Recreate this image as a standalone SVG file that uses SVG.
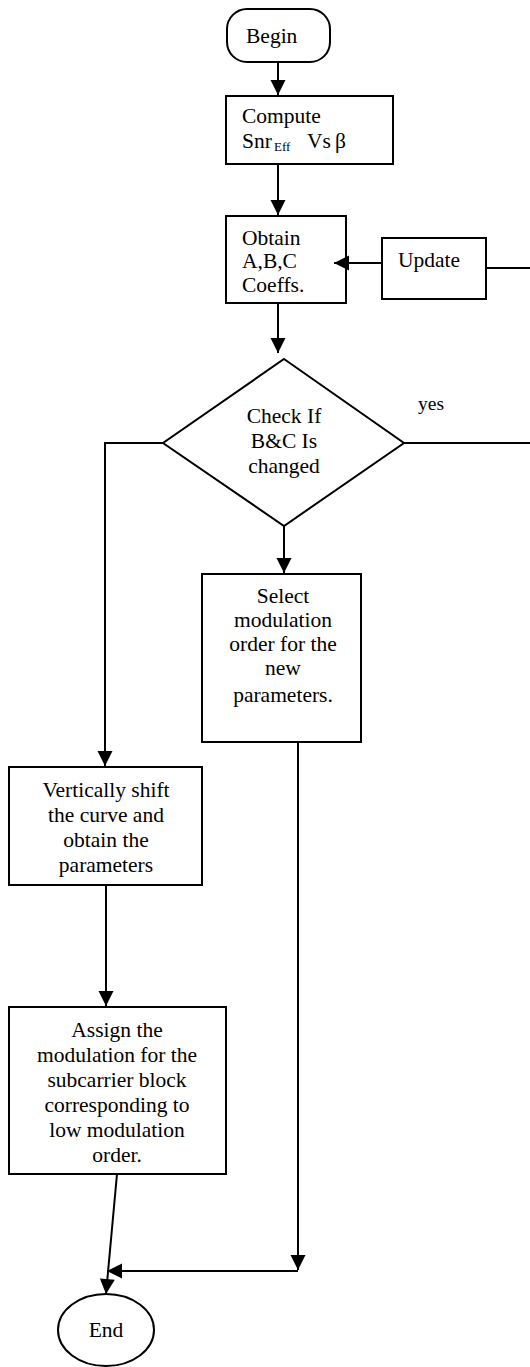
<svg xmlns="http://www.w3.org/2000/svg" width="530" height="1367" viewBox="0 0 530 1367">
<style>
.s{fill:#fff;stroke:#000;stroke-width:2}
.t{font-family:"Liberation Serif","Times New Roman",serif;font-size:21.5px;fill:#000}
.c{text-anchor:middle}
.l{fill:none;stroke:#000;stroke-width:2}
</style>
<defs>
<marker id="a" markerUnits="userSpaceOnUse" markerWidth="20" markerHeight="20" refX="15" refY="7.5" orient="auto" overflow="visible">
<path d="M0,0 L15,7.5 L0,15 z" fill="#000"/>
</marker>
</defs>
<rect width="530" height="1367" fill="#fff"/>
<g id="begin">
<rect class="s" x="227" y="9" width="103" height="53" rx="20"/>
<text class="t" x="246" y="43">Begin</text>
</g>
<g id="compute">
<rect class="s" x="226" y="96" width="167" height="68"/>
<text class="t" x="242" y="123">Compute</text>
<text class="t" x="242" y="148">Snr</text>
<text class="t" x="274" y="151" style="font-size:13px">Eff</text>
<text class="t" x="307" y="148">Vs</text>
<text class="t" x="335" y="148">β</text>
</g>
<g id="obtain">
<rect class="s" x="226" y="216" width="120" height="87"/>
<text class="t" x="242" y="245">Obtain</text>
<text class="t" x="242" y="268">A,B,C</text>
<text class="t" x="242" y="292">Coeffs.</text>
</g>
<g id="update">
<rect class="s" x="382" y="238" width="104" height="61"/>
<text class="t" x="398" y="267">Update</text>
</g>
<g id="check">
<polygon class="s" points="284,359 404,443 284,526 163,443"/>
<text class="t c" x="284" y="423">Check If</text>
<text class="t c" x="284" y="448">B&amp;C Is</text>
<text class="t c" x="284" y="473">changed</text>
</g>
<text class="t" x="418" y="410" style="font-size:19.5px">yes</text>
<g id="select">
<rect class="s" x="202" y="574" width="159" height="168"/>
<text class="t c" x="283" y="603">Select</text>
<text class="t c" x="283" y="627">modulation</text>
<text class="t c" x="283" y="651">order for the</text>
<text class="t c" x="283" y="675">new</text>
<text class="t c" x="283" y="702">parameters.</text>
</g>
<g id="shift">
<rect class="s" x="9" y="767" width="193" height="118"/>
<text class="t c" x="106" y="797">Vertically shift</text>
<text class="t c" x="106" y="822">the curve and</text>
<text class="t c" x="106" y="847">obtain the</text>
<text class="t c" x="106" y="872">parameters</text>
</g>
<g id="assign">
<rect class="s" x="9" y="1007" width="217" height="167"/>
<text class="t c" x="117" y="1037">Assign the</text>
<text class="t c" x="117" y="1062">modulation for the</text>
<text class="t c" x="117" y="1087">subcarrier block</text>
<text class="t c" x="117" y="1112">corresponding to</text>
<text class="t c" x="117" y="1137">low modulation</text>
<text class="t c" x="117" y="1162">order.</text>
</g>
<g id="end">
<ellipse class="s" cx="106" cy="1330" rx="48" ry="36"/>
<text class="t c" x="106" y="1337">End</text>
</g>
<g id="connectors">
<line class="l" x1="278" y1="62" x2="278" y2="95" marker-end="url(#a)"/>
<line class="l" x1="278" y1="164" x2="278" y2="215" marker-end="url(#a)"/>
<line class="l" x1="382" y1="263" x2="334" y2="263" marker-end="url(#a)"/>
<line class="l" x1="486" y1="268" x2="530" y2="268"/>
<line class="l" x1="278" y1="303" x2="278" y2="353" marker-end="url(#a)"/>
<line class="l" x1="404" y1="443" x2="530" y2="443"/>
<polyline class="l" points="163,443 105,443 105,766" marker-end="url(#a)"/>
<line class="l" x1="284" y1="526" x2="284" y2="573" marker-end="url(#a)"/>
<line class="l" x1="298" y1="742" x2="298" y2="1270" marker-end="url(#a)"/>
<line class="l" x1="298" y1="1271" x2="107" y2="1271" marker-end="url(#a)"/>
<line class="l" x1="106" y1="885" x2="106" y2="1006" marker-end="url(#a)"/>
<line class="l" x1="117" y1="1174" x2="106" y2="1294" marker-end="url(#a)"/>
</g>
</svg>
